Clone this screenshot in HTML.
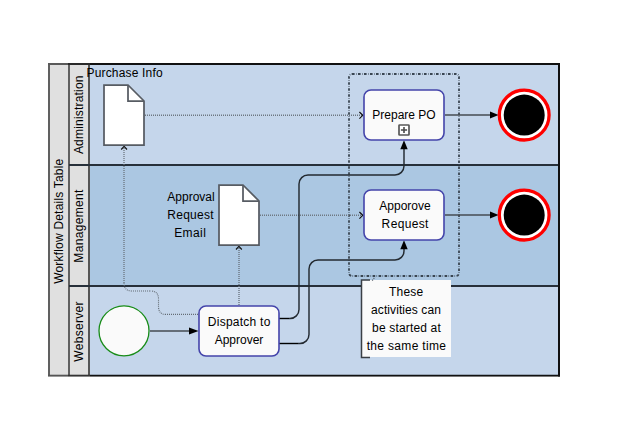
<!DOCTYPE html>
<html><head><meta charset="utf-8">
<style>
html,body{margin:0;padding:0;background:#fff;width:618px;height:424px;overflow:hidden}
svg{display:block}
text{font-family:"Liberation Sans",sans-serif;font-size:12px;fill:#000}
</style></head><body>
<svg width="618" height="424" viewBox="0 0 618 424">
<!-- fills -->
<rect x="48" y="63" width="512" height="314" fill="#e0e0e0"/>
<rect x="90" y="65" width="468" height="99" fill="#c5d6eb"/>
<rect x="90" y="166" width="468" height="119" fill="#abc7e2"/>
<rect x="90" y="287" width="468" height="88" fill="#c5d6eb"/>
<!-- pool borders -->
<g fill="none" stroke-width="2">
<path d="M69,64 V376" stroke="#606060"/>
<path d="M89,64 V376" stroke="#555"/>
<path d="M69,165 H558" stroke="#27303a"/>
<path d="M69,286 H558" stroke="#27303a"/>
<path d="M49,376 V64" stroke="#606060"/>
<path d="M48,64 H68" stroke="#5a5a5a"/>
<path d="M68,64 H90" stroke="#2a2a2a"/>
<path d="M90,64 H559 V376.5" stroke="#111"/>
<path d="M48,375.6 H68" stroke="#555" stroke-width="1.8"/>
<path d="M68,375.6 H90" stroke="#333" stroke-width="1.8"/>
<path d="M90,375.6 H560" stroke="#111" stroke-width="1.8"/>
</g>
<!-- lane labels -->
<text transform="translate(62.8,221.2) rotate(-90)" text-anchor="middle" letter-spacing="0.2">Workflow Details Table</text>
<text transform="translate(82.8,114.7) rotate(-90)" text-anchor="middle" letter-spacing="0.2">Administration</text>
<text transform="translate(82.8,226) rotate(-90)" text-anchor="middle" letter-spacing="0.32">Management</text>
<text transform="translate(82.8,331.4) rotate(-90)" text-anchor="middle" letter-spacing="0.3">Webserver</text>

<!-- group -->
<rect x="349" y="74" width="110" height="202" rx="3" fill="none" stroke="#3a4652" stroke-width="1.8" stroke-dasharray="2.6 1.5 0.5 1.4"/>

<!-- dotted associations -->
<g fill="none" stroke="#646d76" stroke-width="1.1" stroke-dasharray="1 1">
<path d="M145,115.25 H362" stroke-width="1.35" stroke="#6e7882"/>
<path d="M260,215.25 H362" stroke-width="1.35" stroke="#6e7882"/>
<path d="M198,314.4 H166"/>
<path d="M166,314.4 Q158.5,314.4 158.5,306.5 V299 Q158.5,291 150.5,291"/>
<path d="M150,291 H132"/>
<path d="M132,291 Q124,291 124,283"/>
<path d="M124,283 V147" stroke-width="1.2"/>
</g>
<g fill="none" stroke="#6a7480" stroke-width="1.4" stroke-dasharray="1 1">
<path d="M239,305 V247"/>
</g>
<g fill="none" stroke="#111" stroke-width="1.15">
<path d="M359.4,112 L362.8,115.3 L359.4,118.6"/>
<path d="M359.4,212 L362.8,215.3 L359.4,218.6"/>
<path d="M121.2,149.5 L124.1,146.3 L127,149.5"/>
<path d="M236,249.5 L238.9,246.3 L241.8,249.5"/>
</g>

<!-- docs -->
<g fill="#fff" stroke="#575c63" stroke-width="1.75" stroke-linejoin="miter">
<path d="M104,85 H128 L144,101 V145 H104 Z"/>
<path d="M128,85 V101 H144" fill="none"/>
<path d="M219,185 H243 L259,201 V245 H219 Z"/>
<path d="M243,185 V201 H259" fill="none"/>
</g>
<text x="86.5" y="77" letter-spacing="0.17">Purchase Info</text>
<text x="191" y="201" text-anchor="middle">Approval</text>
<text x="190.6" y="219" text-anchor="middle" letter-spacing="0.3">Request</text>
<text x="190.2" y="237" text-anchor="middle" letter-spacing="0.4">Email</text>

<!-- solid connectors -->
<g fill="none" stroke="#454b52" stroke-width="1.5">
<path d="M150,331 H190"/>
<path d="M445,115 H490"/>
<path d="M445,215 H490"/>
<path d="M279,318.5 H290 A9,9 0 0 0 299,309.5 V184 A9,9 0 0 1 308,175 H395 A9,9 0 0 0 404,166 V148" stroke-width="1.45" stroke="#232a31"/>
<path d="M279,343.5 H300 A9,9 0 0 0 309,334.5 V269 A9,9 0 0 1 318,260 H395 A9,9 0 0 0 404,251 V248" stroke-width="1.45" stroke="#232a31"/>
<path d="M279,318.5 H289 M279,343.5 H298" stroke="#000" stroke-width="1.1"/>
</g>
<g fill="#000">
<polygon points="189,327.5 198.5,331 189,334.5"/>
<polygon points="490,111.6 498.6,115 490,118.4"/>
<polygon points="490,211.6 498.6,215 490,218.4"/>
<polygon points="400.3,149.2 404,140.3 407.7,149.2"/>
<polygon points="400.3,249.2 404,240.3 407.7,249.2"/>
</g>

<!-- tasks -->
<g fill="#fafafa" stroke="#4444aa" stroke-width="1.6">
<rect x="364" y="90" width="80" height="50" rx="7"/>
<rect x="364" y="190" width="80" height="50" rx="7"/>
<rect x="199" y="306" width="80" height="50" rx="7"/>
</g>
<text x="404" y="119" text-anchor="middle">Prepare PO</text>
<rect x="399" y="125" width="10" height="10" rx="0.6" fill="#fff" stroke="#585858" stroke-width="1.7"/>
<path d="M400.9,130 H407.1 M404,126.9 V133.1" stroke="#4a4a4a" stroke-width="1.6"/>
<text x="405" y="210" text-anchor="middle">Apporove</text>
<text x="405.2" y="228" text-anchor="middle" letter-spacing="0.35">Request</text>
<text x="239.2" y="326" text-anchor="middle" letter-spacing="0.25">Dispatch to</text>
<text x="239" y="344" text-anchor="middle">Approver</text>

<!-- start event -->
<circle cx="124" cy="330.8" r="25" fill="#fafafa" stroke="#188c18" stroke-width="1.3"/>
<!-- end events -->
<circle cx="524.2" cy="115.1" r="24.9" fill="#fff" stroke="#f00" stroke-width="3.3"/>
<circle cx="524.2" cy="115.1" r="20.5" fill="#000"/>
<circle cx="524.2" cy="215.1" r="24.9" fill="#fff" stroke="#f00" stroke-width="3.3"/>
<circle cx="524.2" cy="215.1" r="20.5" fill="#000"/>

<!-- note -->
<rect x="361" y="280" width="90" height="77" fill="#fafafa"/>
<path d="M370,280 H361.5 V357.6 H370" fill="none" stroke="#3a3f45" stroke-width="1.5"/>
<path d="M372.2,280.6 L375,277" fill="none" stroke="#5a636c" stroke-width="1.1" stroke-dasharray="1.2 1"/>
<text x="406.2" y="296" text-anchor="middle" letter-spacing="0.25">These</text>
<text x="406" y="314" text-anchor="middle" letter-spacing="0.08">activities can</text>
<text x="406.5" y="332" text-anchor="middle" letter-spacing="0.16">be started at</text>
<text x="406.5" y="350" text-anchor="middle" letter-spacing="0.33">the same time</text>
</svg>
</body></html>
